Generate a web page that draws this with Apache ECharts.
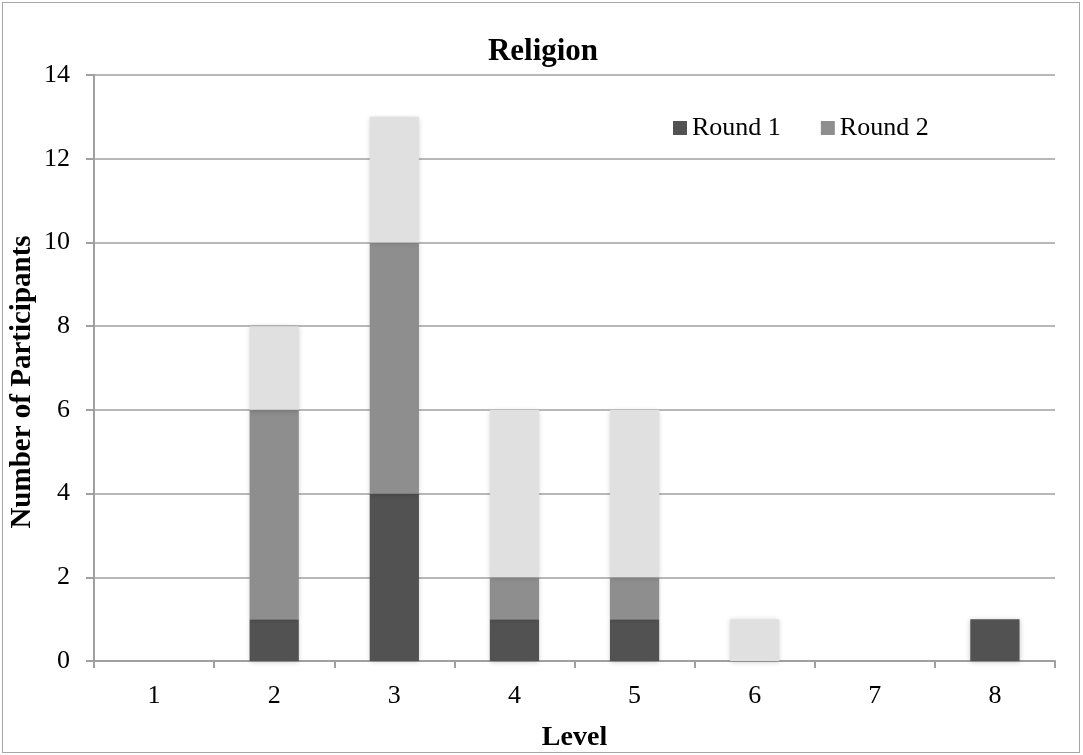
<!DOCTYPE html>
<html>
<head>
<meta charset="utf-8">
<script src="https://cdn.jsdelivr.net/npm/echarts@6/dist/echarts.min.js"></script>
<style>
  html, body { margin: 0; padding: 0; background: #fff; }
  #frame { position: absolute; left: 2px; top: 2px; width: 1078px; height: 751px; border: 1px solid #a6a6a6; box-sizing: border-box; }
  #chart { position: absolute; left: 0; top: 0; width: 1083px; height: 755px; }
</style>
</head>
<body>
<div id="frame"></div>
<div id="chart"></div>
<script>
// Participants per level, stacked by round
const levels = ['1', '2', '3', '4', '5', '6', '7', '8'];
const round1 = [0, 1, 4, 1, 1, 0, 0, 1];
const round2 = [0, 5, 6, 1, 1, 0, 0, 0];
const round3 = [0, 2, 3, 4, 4, 1, 0, 0];

const serif = '"Liberation Serif", "Times New Roman", serif';
const shadow = { shadowColor: 'rgba(0,0,0,0.22)', shadowBlur: 5, shadowOffsetX: 0, shadowOffsetY: 1 };

const chart = echarts.init(document.getElementById('chart'), null, { renderer: 'canvas' });
chart.setOption({
  animation: false,
  backgroundColor: 'transparent',
  title: {
    text: 'Religion',
    left: 538, top: 31, textAlign: 'center',
    textStyle: { fontFamily: serif, fontWeight: 'bold', fontSize: 31, color: '#000' }
  },
  legend: {
    data: ['Round 1', 'Round 2'],
    left: 668, top: 110,
    itemWidth: 14, itemHeight: 14, itemGap: 40,
    icon: 'rect',
    textStyle: { fontFamily: serif, fontSize: 26, color: '#000', padding: [0, 0, 0, 0] }
  },
  grid: { left: 94, right: 28, top: 75, bottom: 94, containLabel: false, outerBoundsMode: 'none' },
  xAxis: {
    type: 'category',
    data: levels,
    name: 'Level',
    nameLocation: 'middle',
    nameGap: 63,
    nameMoveOverlap: false,
    nameTextStyle: { fontFamily: serif, fontWeight: 'bold', fontSize: 28, color: '#000' },
    axisLine: { lineStyle: { color: '#a0a0a0', width: 2 } },
    axisTick: { show: true, length: 7, lineStyle: { color: '#a0a0a0', width: 2 } },
    axisLabel: { fontFamily: serif, fontSize: 26, color: '#000', margin: 22 }
  },
  yAxis: {
    type: 'value',
    min: 0, max: 14, interval: 2,
    name: 'Number of Participants',
    nameLocation: 'middle',
    nameGap: 57,
    nameMoveOverlap: false,
    nameTextStyle: { fontFamily: serif, fontWeight: 'bold', fontSize: 29, color: '#000', padding: [0, 28, 0, 0] },
    axisLine: { show: true, lineStyle: { color: '#a0a0a0', width: 2 } },
    axisTick: { show: true, length: 8, lineStyle: { color: '#a0a0a0', width: 2 } },
    axisLabel: { fontFamily: serif, fontSize: 26, color: '#000', margin: 24 },
    splitLine: { lineStyle: { color: '#a0a0a0', width: 1.5 } }
  },
  series: [
    { name: 'Round 1', type: 'bar', stack: 'r', data: round1, barWidth: '41%',
      itemStyle: Object.assign({ color: '#525252' }, shadow) },
    { name: 'Round 2', type: 'bar', stack: 'r', data: round2, barWidth: '41%',
      itemStyle: Object.assign({ color: '#8e8e8e' }, shadow) },
    { name: 'Round 3', type: 'bar', stack: 'r', data: round3, barWidth: '41%',
      itemStyle: Object.assign({ color: '#e0e0e0' }, shadow) }
  ]
});
</script>
</body>
</html>
